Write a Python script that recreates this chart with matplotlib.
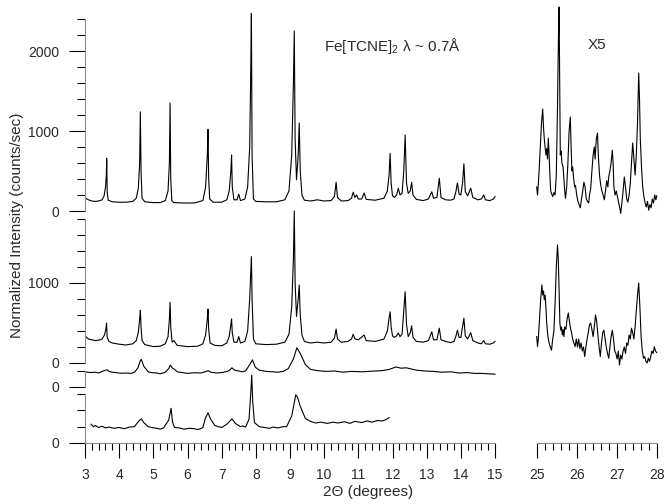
import numpy as np
import matplotlib
matplotlib.use("Agg")
import matplotlib.pyplot as plt
from matplotlib.ticker import MultipleLocator

plt.rcParams['font.family'] = ['Liberation Sans', 'DejaVu Sans']

# --- top pattern (offset panel 1), counts/sec
x1 = [3.02, 3.1, 3.2, 3.3, 3.4, 3.5, 3.56, 3.6, 3.625, 3.635, 3.65, 3.68, 3.8, 4.0, 4.2, 4.4, 4.5, 4.56,
      4.6, 4.62, 4.64, 4.67, 4.75, 5.0, 5.2, 5.35, 5.43, 5.47, 5.49, 5.51, 5.54, 5.6, 5.9, 6.2, 6.45, 6.53,
      6.58, 6.6, 6.62, 6.65, 6.75, 7.0, 7.15, 7.22, 7.27, 7.29, 7.31, 7.36, 7.45, 7.5, 7.55, 7.68, 7.76,
      7.82, 7.85, 7.87, 7.89, 7.93, 8.0, 8.3, 8.6, 8.85, 8.97, 9.05, 9.1, 9.125, 9.15, 9.19, 9.24, 9.27,
      9.3, 9.35, 9.42, 9.6, 9.8, 10.0, 10.2, 10.3, 10.35, 10.39, 10.5, 10.7, 10.8, 10.85, 10.9, 10.95,
      11.0, 11.1, 11.17, 11.23, 11.5, 11.75, 11.85, 11.9, 11.93, 11.96, 12.0, 12.06, 12.12, 12.17, 12.22,
      12.28, 12.33, 12.37, 12.41, 12.46, 12.52, 12.56, 12.6, 12.7, 12.9, 13.05, 13.15, 13.2, 13.3, 13.37,
      13.42, 13.55, 13.7, 13.8, 13.86, 13.9, 13.95, 14.0, 14.05, 14.09, 14.13, 14.2, 14.29, 14.35, 14.5,
      14.6, 14.67, 14.72, 14.85, 14.95, 15.0]
y1 = [160, 140, 125, 120, 125, 140, 190, 300, 450, 660, 230, 135, 115, 110, 110, 120, 160, 280,
      600, 1240, 500, 160, 115, 105, 105, 130, 250, 600, 1350, 400, 130, 105, 100, 100, 130, 300,
      700, 1020, 400, 150, 110, 110, 140, 250, 500, 700, 300, 140, 140, 210, 130, 150, 300,
      800, 1700, 2470, 700, 150, 120, 115, 115, 140, 250, 700, 1600, 2250, 900, 390, 700, 1100,
      500, 200, 135, 125, 140, 125, 130, 180, 360, 170, 125, 130, 160, 235, 170, 200,
      150, 150, 225, 145, 135, 160, 250, 450, 720, 350, 190, 170, 200, 285, 200,
      220, 500, 950, 350, 220, 250, 360, 200, 145, 130, 150, 240, 160, 170, 410,
      170, 140, 135, 150, 250, 350, 210, 200, 350, 590, 240, 190, 285, 170, 140,
      150, 200, 140, 130, 150, 180]

# --- second pattern (panel 2)
x2 = [3.02, 3.1, 3.2, 3.3, 3.4, 3.5, 3.57, 3.61, 3.63, 3.65, 3.7, 3.8, 4.0, 4.2, 4.4, 4.5, 4.56, 4.6,
      4.62, 4.64, 4.67, 4.75, 5.0, 5.2, 5.35, 5.43, 5.47, 5.49, 5.51, 5.55, 5.6, 5.7, 6.0, 6.3, 6.45,
      6.53, 6.58, 6.6, 6.62, 6.66, 6.8, 7.0, 7.15, 7.22, 7.27, 7.29, 7.31, 7.36, 7.45, 7.5, 7.55, 7.68,
      7.76, 7.82, 7.85, 7.87, 7.89, 7.93, 8.0, 8.3, 8.6, 8.85, 8.97, 9.05, 9.1, 9.125, 9.15, 9.19, 9.24,
      9.27, 9.3, 9.35, 9.42, 9.6, 9.8, 10.0, 10.2, 10.3, 10.35, 10.39, 10.5, 10.7, 10.8, 10.85, 10.9,
      11.0, 11.17, 11.23, 11.5, 11.75, 11.85, 11.9, 11.93, 11.96, 12.0, 12.06, 12.12, 12.17, 12.22,
      12.28, 12.33, 12.37, 12.41, 12.46, 12.52, 12.56, 12.6, 12.7, 12.9, 13.05, 13.15, 13.2, 13.3,
      13.37, 13.42, 13.55, 13.7, 13.8, 13.86, 13.9, 13.95, 14.0, 14.05, 14.09, 14.13, 14.2, 14.29,
      14.35, 14.5, 14.6, 14.67, 14.72, 14.85, 14.95, 15.0]
y2 = [330, 300, 290, 280, 285, 300, 350, 420, 500, 320, 270, 250, 235, 225, 240, 280, 380, 550,
      660, 450, 280, 230, 205, 210, 240, 330, 550, 760, 450, 260, 280, 220, 205, 210, 240,
      350, 550, 675, 420, 250, 220, 215, 250, 330, 480, 550, 380, 260, 260, 330, 250, 270,
      400, 800, 1100, 1330, 800, 300, 240, 230, 235, 260, 360, 700, 1300, 1900, 1000, 580, 800,
      975, 600, 350, 270, 250, 260, 250, 260, 310, 425, 300, 260, 270, 300, 360, 300,
      290, 350, 280, 270, 300, 400, 560, 640, 450, 340, 320, 340, 375, 330,
      360, 650, 890, 480, 330, 380, 465, 320, 270, 260, 280, 390, 290, 290,
      435, 290, 270, 255, 270, 340, 410, 320, 320, 450, 560, 340, 300, 380,
      280, 250, 240, 280, 240, 235, 250, 270]

# --- third pattern (panel 3)
x3 = [3.02, 3.15, 3.3, 3.4, 3.5, 3.6, 3.65, 3.7, 3.8, 3.9, 4.05, 4.2, 4.35, 4.45, 4.55, 4.62, 4.65,
      4.72, 4.85, 4.95, 5.1, 5.2, 5.35, 5.45, 5.5, 5.55, 5.62, 5.7, 5.85, 6.0, 6.2, 6.4, 6.55, 6.6,
      6.68, 6.85, 7.0, 7.12, 7.22, 7.3, 7.38, 7.5, 7.6, 7.7, 7.82, 7.9, 7.98, 8.1, 8.3, 8.5, 8.65,
      8.8, 8.95, 9.1, 9.2, 9.3, 9.45, 9.6, 9.8, 10.05, 10.3, 10.55, 10.8, 11.1, 11.5, 11.7, 11.9, 12.1,
      12.25, 12.4, 12.55, 12.7, 12.95, 13.2, 13.45, 13.7, 13.95, 14.2, 14.4, 14.6, 14.8, 15.0]
y3 = [190, 180, 185, 175, 195, 210, 215, 195, 185, 180, 172, 175, 170, 185, 240, 330, 345,
      260, 190, 180, 175, 165, 185, 230, 275, 240, 220, 190, 180, 170, 178, 175, 195, 205,
      185, 175, 180, 190, 205, 240, 210, 200, 190, 200, 280, 340, 250, 210, 195, 190, 185,
      195, 230, 350, 490, 420, 280, 220, 205, 195, 200, 185, 195, 190, 200, 205, 220, 250,
      235, 240, 225, 210, 200, 195, 185, 190, 175, 180, 170, 170, 165, 160]

# --- bottom pattern (panel 4)
x4 = [3.18, 3.25, 3.3, 3.4, 3.5, 3.6, 3.7, 3.85, 4.0, 4.15, 4.3, 4.45, 4.5, 4.6, 4.65, 4.72, 4.85,
      4.95, 5.1, 5.2, 5.3, 5.45, 5.52, 5.56, 5.62, 5.75, 5.9, 6.05, 6.2, 6.3, 6.38, 6.45, 6.52, 6.6,
      6.68, 6.8, 6.9, 7.0, 7.15, 7.3, 7.4, 7.55, 7.62, 7.7, 7.8, 7.85, 7.88, 7.91, 7.96, 8.1, 8.25,
      8.4, 8.5, 8.65, 8.8, 8.9, 9.05, 9.17, 9.22, 9.3, 9.45, 9.6, 9.75, 9.9, 10.1, 10.25, 10.4, 10.6,
      10.75, 10.9, 11.1, 11.25, 11.4, 11.55, 11.7, 11.8, 11.9]
y4 = [230, 200, 215, 190, 205, 185, 195, 180, 190, 175, 195, 200, 230, 280, 295, 250, 200,
      190, 180, 170, 185, 280, 425, 260, 190, 185, 170, 180, 175, 165, 175, 190, 300, 370,
      290, 215, 200, 190, 230, 295, 240, 200, 210, 195, 290, 600, 830, 500, 250, 200, 190,
      180, 195, 185, 200, 200, 330, 590, 560, 450, 300, 265, 245, 255, 240, 255, 245, 260,
      240, 265, 250, 270, 255, 275, 270, 285, 310]

# --- high angle region, x5 (top and second pattern)
xr1 = [25.0, 25.02, 25.04, 25.06, 25.09, 25.12, 25.15, 25.17, 25.19, 25.21, 25.23, 25.25, 25.27,
       25.29, 25.31, 25.33, 25.35, 25.37, 25.4, 25.43, 25.46, 25.49, 25.52, 25.545, 25.56, 25.575,
       25.59, 25.61, 25.63, 25.66, 25.68, 25.7, 25.72, 25.75, 25.78, 25.81, 25.84, 25.86, 25.88,
       25.9, 25.92, 25.95, 25.97, 26.0, 26.03, 26.06, 26.09, 26.12, 26.15, 26.18, 26.21, 26.24,
       26.27, 26.3, 26.32, 26.35, 26.38, 26.41, 26.44, 26.46, 26.49, 26.52, 26.54, 26.57, 26.6,
       26.63, 26.66, 26.69, 26.72, 26.75, 26.78, 26.8, 26.83, 26.86, 26.89, 26.91, 26.93, 26.96,
       26.99, 27.02, 27.05, 27.08, 27.1, 27.13, 27.16, 27.19, 27.22, 27.25, 27.28, 27.31, 27.34,
       27.37, 27.4, 27.43, 27.46, 27.49, 27.52, 27.55, 27.57, 27.59, 27.62, 27.65, 27.68, 27.71,
       27.74, 27.77, 27.8, 27.83, 27.86, 27.89, 27.92, 27.95, 27.98, 28.0]
yr1 = [300, 200, 330, 500, 800, 1100, 1275, 1050, 900, 800, 700, 780, 650,
       910, 700, 450, 250, 220, 180, 230, 200, 450, 1300, 2200, 2550, 1600,
       700, 750, 600, 550, 400, 250, 160, 300, 600, 1000, 1175, 800, 500,
       550, 420, 300, 320, 200, 120, 80, 40, 150, 250, 360, 300, 150,
       120, 100, 200, 280, 500, 700, 800, 650, 900, 975, 700, 450, 325,
       250, 200, 140, 250, 380, 300, 425, 500, 600, 760, 600, 300, 200,
       250, 175, 100, 30, -30, 100, 250, 425, 300, 150, 110, 200, 350,
       600, 850, 650, 450, 700, 1100, 1725, 1400, 900, 550, 300, 180, 100,
       50, 120, 10, 80, 40, 150, 100, 200, 140, 190]
xr2 = [25.0, 25.02, 25.04, 25.07, 25.1, 25.13, 25.15, 25.17, 25.19, 25.21, 25.23, 25.25, 25.28,
       25.31, 25.34, 25.37, 25.4, 25.43, 25.46, 25.49, 25.52, 25.54, 25.56, 25.58, 25.6, 25.62,
       25.64, 25.66, 25.68, 25.7, 25.73, 25.76, 25.79, 25.81, 25.84, 25.87, 25.9, 25.93, 25.96,
       25.99, 26.02, 26.05, 26.08, 26.11, 26.14, 26.17, 26.2, 26.23, 26.26, 26.29, 26.32, 26.35,
       26.38, 26.41, 26.44, 26.47, 26.5, 26.53, 26.56, 26.59, 26.62, 26.65, 26.68, 26.71, 26.74,
       26.77, 26.8, 26.83, 26.86, 26.89, 26.92, 26.95, 26.98, 27.01, 27.04, 27.07, 27.1, 27.13,
       27.16, 27.19, 27.22, 27.25, 27.28, 27.31, 27.34, 27.37, 27.4, 27.43, 27.46, 27.49, 27.52,
       27.55, 27.58, 27.61, 27.64, 27.67, 27.7, 27.73, 27.76, 27.79, 27.82, 27.85, 27.88, 27.91,
       27.94, 27.97, 28.0]
yr2 = [330, 205, 300, 550, 800, 975, 850, 900, 790, 850, 700, 500, 330,
       250, 200, 160, 300, 400, 750, 1200, 1475, 1300, 900, 500, 410, 450,
       350, 420, 330, 450, 420, 550, 625, 550, 450, 380, 300, 250, 205,
       300, 200, 300, 180, 250, 150, 200, 80, 200, 300, 380, 480, 500,
       420, 330, 450, 600, 520, 350, 200, 80, 250, 380, 410, 300, 200,
       120, 60, 200, 330, 410, 300, 150, 120, 50, 150, -25, 100, 50,
       150, 200, 120, 250, 220, 350, 300, 435, 380, 300, 450, 650, 850,
       1000, 700, 330, 150, 60, 80, 20, 0, 60, 20, 80, 150, 120,
       205, 150, 130]

W, H = 666, 504
fig = plt.figure(figsize=(W / 100, H / 100), dpi=100)
fig.patch.set_facecolor('white')

def box(x0, x1_, ytop, ybot):
    return [x0 / W, 1 - ybot / H, (x1_ - x0) / W, (ybot - ytop) / H]

tc = '#2a2a2a'
sc = '#8c8c8c'

segs = [(19, 211, 2400, x1, y1), (219, 363, 1800, x2, y2), (371, 387, 200, x3, y3), (394, 443, 600, x4, y4)]
for i, (yt, yb, top, xs, ys) in enumerate(segs):
    ax = fig.add_axes(box(85, 495, yt, yb))
    ax.patch.set_alpha(0)
    ax.plot(xs, ys, color='black', lw=0.8, clip_on=False)
    ax.set_xlim(3, 15)
    ax.set_ylim(0, top)
    for s in ['top', 'right', 'bottom']:
        ax.spines[s].set_visible(False)
    ax.spines['left'].set_color(sc)
    ax.yaxis.set_major_locator(MultipleLocator(1000))
    ax.yaxis.set_minor_locator(MultipleLocator(200))
    ax.tick_params(axis='y', which='major', length=11.5, width=0.8, pad=7, labelsize=10, labelcolor=tc)
    ax.tick_params(axis='y', which='minor', length=5.8, width=0.8)
    if i == 3:
        ax.spines['bottom'].set_visible(True)
        ax.spines['bottom'].set_color(sc)
        ax.xaxis.set_major_locator(MultipleLocator(1))
        ax.xaxis.set_minor_locator(MultipleLocator(0.2))
        ax.tick_params(axis='x', which='major', length=10.8, width=0.8, pad=7, labelsize=10, labelcolor=tc)
        ax.tick_params(axis='x', which='minor', length=5, width=0.8)
    else:
        ax.tick_params(axis='x', which='both', bottom=False, labelbottom=False)

# right hand panel (25-28 deg)
for (yt, yb, top, xs, ys) in [(19, 211, 2400, xr1, yr1), (219, 363, 1800, xr2, yr2)]:
    ar = fig.add_axes(box(536.7, 656.7, yt, yb))
    ar.patch.set_alpha(0)
    ar.plot(xs, ys, color='black', lw=0.8, clip_on=False)
    ar.set_xlim(25, 28)
    ar.set_ylim(0, top)
    ar.axis('off')

ab = fig.add_axes(box(536.7, 656.7, 394, 443))
ab.patch.set_alpha(0)
ab.set_xlim(25, 28)
for s in ['top', 'right', 'left']:
    ab.spines[s].set_visible(False)
ab.spines['bottom'].set_color(sc)
ab.set_yticks([])
ab.xaxis.set_major_locator(MultipleLocator(1))
ab.xaxis.set_minor_locator(MultipleLocator(0.2))
ab.tick_params(axis='x', which='major', length=10.8, width=0.8, pad=7, labelsize=10, labelcolor=tc)
ab.tick_params(axis='x', which='minor', length=5, width=0.8)

fig.text(392 / W, 1 - 46 / H, r'Fe[TCNE]$_\mathregular{2}$ λ ~ 0.7Å', fontsize=11, color=tc,
         ha='center', va='center')
fig.text(597 / W, 1 - 45 / H, 'X5', fontsize=11, color=tc, ha='center', va='center')
fig.text(17 / W, 1 - 225 / H, 'Normalized Intensity (counts/sec)', fontsize=11, color=tc,
         rotation=90, ha='center', va='center')
fig.text(368 / W, 1 - 492 / H, '2Θ (degrees)', fontsize=11, color=tc, ha='center', va='center')

fig.savefig('out.png', dpi=100)
